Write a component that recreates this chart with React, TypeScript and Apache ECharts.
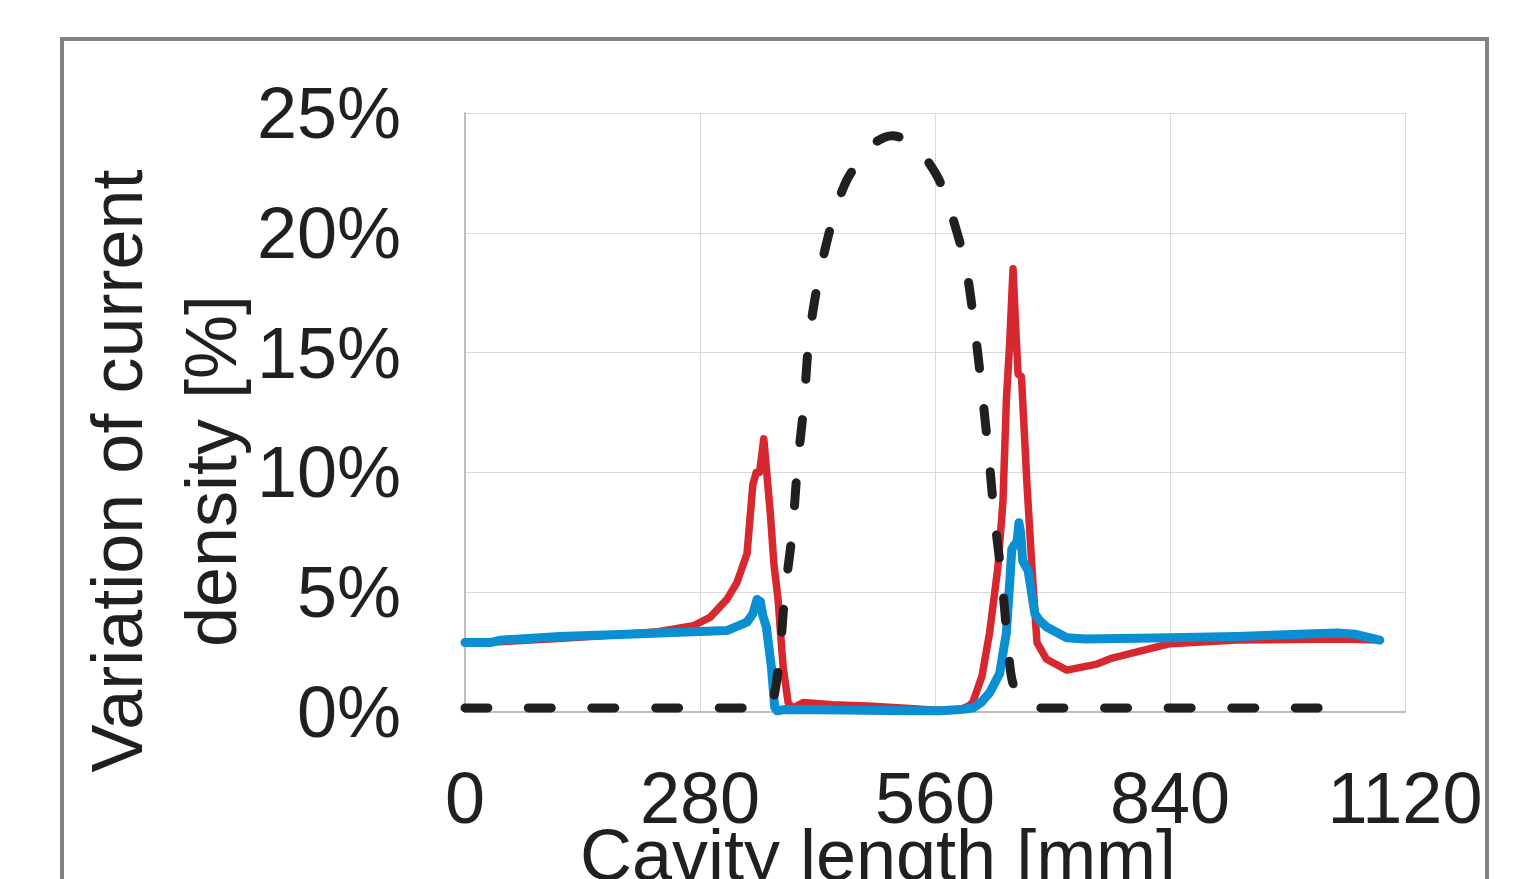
import React, { useEffect, useRef } from "react";
import * as echarts from "echarts";

const xTicks = [0, 280, 560, 840, 1120];
const yTicks = [0, 5, 10, 15, 20, 25];

const dashX = [0, 360, 366, 370, 375, 381, 390, 396, 404, 410, 422, 440, 455, 474, 490, 509, 525, 538, 562, 575, 596, 607, 616, 624, 631, 640, 647, 652, 660, 668, 680, 1050];
const dashY = [0.17, 0.17, 0.4, 1.0, 2.3, 4.9, 7.5, 10.2, 12.9, 15.6, 18.2, 20.8, 22.2, 23.2, 23.8, 24.05, 23.9, 23.6, 22.4, 21.3, 18.7, 16.1, 13.4, 10.7, 8.1, 5.4, 2.7, 1.3, 0.7, 0.3, 0.17, 0.17];

const redX = [0, 40, 100, 160, 230, 272, 292, 312, 324, 336, 343, 347, 351, 356, 360, 364, 368, 373, 379, 385, 390, 403, 438, 480, 530, 570, 590, 600, 605, 616, 625, 635, 641, 645, 649, 653, 656.5, 659, 663, 669.5, 675.5, 681.5, 693, 717, 753, 771, 840, 920, 1041, 1090];
const redY = [2.9, 2.93, 3.05, 3.17, 3.35, 3.6, 3.95, 4.7, 5.4, 6.6, 9.5, 10.0, 10.0, 11.4, 9.8, 8.2, 6.2, 4.7, 1.9, 0.4, 0.15, 0.4, 0.3, 0.25, 0.15, 0.05, 0.1, 0.25, 0.4, 1.5, 3.3, 6.05, 8.8, 13.0, 15.4, 18.5, 15.8, 14.1, 14.0, 9.55, 6.05, 2.9, 2.2, 1.75, 2.0, 2.25, 2.85, 3.0, 3.05, 3.0];

const blueX = [0, 30, 42, 113, 193, 272, 312, 336, 343, 348, 352, 355, 359, 365, 369, 372, 380, 450, 530, 566, 590, 605, 615, 625, 637, 645, 649, 651.5, 655, 657.5, 660, 662, 664.5, 671, 679, 685, 693, 717, 739, 840, 920, 1039, 1060, 1090];
const blueY = [2.9, 2.9, 3.0, 3.15, 3.25, 3.35, 3.4, 3.75, 4.1, 4.7, 4.6, 4.0, 3.55, 1.9, 0.2, 0.05, 0.1, 0.08, 0.05, 0.05, 0.1, 0.17, 0.4, 0.8, 1.6, 3.3, 5.4, 6.8, 7.0, 7.0, 7.9, 7.5, 6.3, 5.9, 4.1, 3.8, 3.55, 3.1, 3.05, 3.1, 3.15, 3.3, 3.25, 3.0];

const xTitle = "Cavity length [mm]";
const yTitle = "Variation of current\ndensity [%]";

const FONT = "Liberation Sans, Arial, sans-serif";
const TEXT = "#231f20";

const pairs = (xs: number[], ys: number[]) => xs.map((x, i) => [x, ys[i]]);

export default function App() {
  const ref = useRef<HTMLDivElement>(null);
  useEffect(() => {
    if (!ref.current) return;
    const chart = echarts.init(ref.current, null, { renderer: "svg" });
    chart.setOption({
      animation: false,
      backgroundColor: "#ffffff",
      grid: { left: 465, top: 113, right: 128, bottom: 167, containLabel: false },
      xAxis: {
        type: "value",
        min: xTicks[0],
        max: xTicks[xTicks.length - 1],
        interval: xTicks[1] - xTicks[0],
        axisLine: { show: true, onZero: false, lineStyle: { color: "#bcbec0", width: 2 } },
        axisTick: { show: false },
        splitLine: { show: true, lineStyle: { color: "#d9d9d9", width: 1 } },
        axisLabel: {
          fontSize: 72, color: TEXT, fontFamily: FONT, margin: 50, showMaxLabel: true, showMinLabel: true,
          formatter: (v: number) => String(v),
        },
      },
      yAxis: {
        type: "value",
        min: yTicks[0],
        max: yTicks[yTicks.length - 1],
        interval: yTicks[1] - yTicks[0],
        axisLine: { show: true, lineStyle: { color: "#bcbec0", width: 2 } },
        axisTick: { show: false },
        splitLine: { show: true, lineStyle: { color: "#d9d9d9", width: 1 } },
        axisLabel: { fontSize: 72, color: TEXT, fontFamily: FONT, margin: 64, formatter: "{value}%" },
      },
      graphic: [
        {
          type: "rect",
          shape: { x: 62, y: 39, width: 1425, height: 900 },
          style: { fill: "none", stroke: "#808285", lineWidth: 4 },
          z: 100,
        },
        {
          type: "text",
          x: 878,
          y: 819,
          style: { text: xTitle, fontSize: 72, fontFamily: FONT, fill: TEXT, textAlign: "center", textVerticalAlign: "top" },
        },
        {
          type: "text",
          x: 164,
          y: 471,
          rotation: Math.PI / 2,
          style: { text: yTitle, fontSize: 72, lineHeight: 94, fontFamily: FONT, fill: TEXT, textAlign: "center", textVerticalAlign: "middle" },
        },
      ],
      series: [
        {
          type: "line",
          data: pairs(redX, redY),
          showSymbol: false,
          lineStyle: { color: "#d7282f", width: 7.5, cap: "round", join: "round" },
          z: 2,
        },
        {
          type: "line",
          data: pairs(blueX, blueY),
          showSymbol: false,
          lineStyle: { color: "#0a8fd2", width: 9, cap: "round", join: "round" },
          z: 3,
        },
        {
          type: "line",
          data: pairs(dashX, dashY),
          showSymbol: false,
          smooth: 0.3,
          lineStyle: { color: "#231f20", width: 9, type: [23, 40.5], cap: "round", join: "round" },
          z: 4,
        },
      ],
    });
    return () => chart.dispose();
  }, []);
  return <div ref={ref} style={{ position: "fixed", left: 0, top: 0, width: 1533, height: 879 }} />;
}
